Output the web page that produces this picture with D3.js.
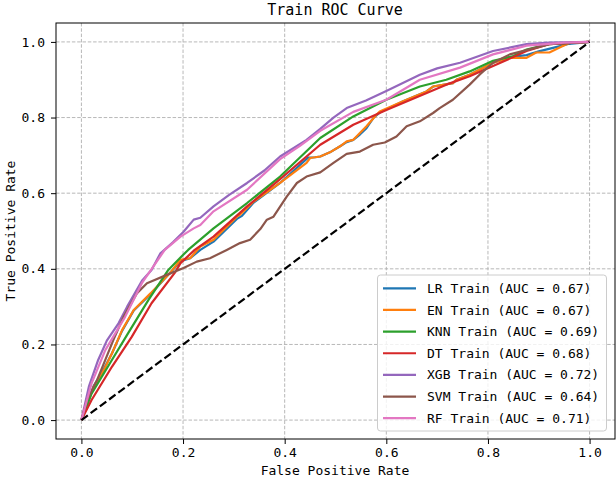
<!DOCTYPE html>
<html>
<head>
<meta charset="utf-8">
<script src="https://cdn.jsdelivr.net/npm/d3@7"></script>
<style>
  body { margin: 0; background: #fff; }
  svg text { font-family: "DejaVu Sans Mono", "Liberation Mono", monospace; fill: #000; }
</style>
</head>
<body>
<svg id="chart" width="616" height="482"></svg>
<script>
// model names / AUC as printed in the legend
const models = ['LR', 'EN', 'KNN', 'DT', 'XGB', 'SVM', 'RF'];
const aucs = [0.67, 0.67, 0.69, 0.68, 0.72, 0.64, 0.71];
const colors = ['#1f77b4', '#ff7f0e', '#2ca02c', '#d62728', '#9467bd', '#8c564b', '#e377c2'];
const ticks = [0, 0.2, 0.4, 0.6, 0.8, 1.0];

// ROC points
const fprLR = [0, .024, .044, .06, .08, .103, .136, .175, .195, .214, .234, .26, .306, .316, .339, .391, .446, .46, .47, .489, .509, .522, .535, .548, .561, .575, .587, .633, .679, .692, .731, .738, .764, .81, .843, .876, .9, .93, .96, 1];
const tprLR = [0, .09, .135, .176, .236, .29, .333, .39, .42, .428, .45, .472, .532, .54, .575, .627, .694, .695, .697, .708, .724, .735, .741, .755, .772, .8, .813, .843, .869, .882, .891, .9, .913, .945, .96, .965, .975, .985, .995, 1];

const fprEN = [0, .024, .044, .06, .08, .103, .136, .175, .195, .214, .234, .26, .306, .312, .339, .391, .443, .45, .47, .489, .509, .522, .535, .548, .561, .581, .587, .633, .679, .692, .731, .738, .764, .81, .843, .876, .895, .921, .941, .961, 1];
const tprEN = [0, .088, .132, .176, .238, .291, .335, .39, .424, .428, .459, .477, .538, .543, .578, .627, .68, .693, .697, .708, .724, .737, .741, .759, .777, .808, .816, .843, .869, .882, .891, .9, .913, .945, .958, .958, .972, .972, .985, .998, 1];

const fprKNN = [0, .02, .06, .092, .132, .171, .195, .21, .26, .326, .391, .47, .535, .6, .666, .718, .764, .81, .849, .876, .92, 1];
const tprKNN = [0, .07, .159, .23, .318, .397, .43, .45, .507, .574, .644, .746, .803, .847, .882, .9, .922, .95, .962, .98, .994, 1];

const fprDT = [0, .02, .06, .099, .138, .184, .195, .223, .26, .326, .391, .47, .535, .6, .718, .764, .81, .876, .92, 1];
const tprDT = [0, .053, .141, .22, .309, .39, .415, .45, .485, .565, .637, .728, .781, .82, .887, .909, .936, .976, .994, 1];

const fprXGB = [0, .015, .033, .05, .073, .09, .105, .12, .138, .155, .18, .201, .221, .234, .26, .29, .326, .36, .391, .443, .47, .496, .522, .56, .6, .666, .7, .745, .81, .876, .92, 1];
const tprXGB = [0, .09, .159, .21, .256, .3, .335, .37, .397, .44, .47, .498, .53, .535, .565, .595, .627, .66, .697, .741, .77, .8, .825, .845, .87, .913, .93, .945, .976, .994, .998, 1];

const fprSVM = [0, .011, .031, .047, .063, .083, .109, .129, .136, .168, .201, .227, .253, .286, .312, .332, .352, .365, .378, .404, .424, .443, .47, .496, .522, .548, .574, .597, .62, .64, .666, .692, .705, .731, .764, .784, .81, .843, .895, .921, 1];
const tprSVM = [0, .053, .106, .159, .212, .273, .335, .362, .366, .384, .402, .419, .428, .45, .468, .477, .505, .53, .538, .591, .627, .644, .655, .68, .704, .71, .728, .734, .75, .777, .79, .812, .825, .847, .887, .914, .945, .967, .985, .994, 1];

const fprRF = [0, .02, .047, .086, .119, .164, .195, .221, .234, .26, .326, .391, .43, .47, .535, .6, .666, .745, .81, .876, .95, 1];
const tprRF = [0, .097, .185, .273, .362, .45, .485, .507, .516, .552, .609, .69, .725, .765, .815, .847, .9, .932, .967, .99, .998, 1];

const fprs = [fprLR, fprEN, fprKNN, fprDT, fprXGB, fprSVM, fprRF];
const tprs = [tprLR, tprEN, tprKNN, tprDT, tprXGB, tprSVM, tprRF];

const svg = d3.select('#chart');
const x = d3.scaleLinear().domain([-0.05, 1.05]).range([56, 615]);
const y = d3.scaleLinear().domain([-0.05, 1.05]).range([439, 23]);

// grid
const grid = svg.append('g');
grid.selectAll('.gx').data(ticks).enter().append('line')
  .attr('x1', d => x(d)).attr('x2', d => x(d)).attr('y1', 23).attr('y2', 439)
  .attr('stroke', '#b0b0b0').attr('stroke-width', 0.9).attr('stroke-dasharray', '3.5,1.8');
grid.selectAll('.gy').data(ticks).enter().append('line')
  .attr('y1', d => y(d)).attr('y2', d => y(d)).attr('x1', 56).attr('x2', 615)
  .attr('stroke', '#b0b0b0').attr('stroke-width', 0.9).attr('stroke-dasharray', '3.5,1.8');

// curves
const line = d3.line().x(d => x(d[0])).y(d => y(d[1]));
models.forEach((m, i) => {
  const pts = fprs[i].map((f, j) => [f, tprs[i][j]]);
  svg.append('path').datum(pts).attr('d', line)
    .attr('fill', 'none').attr('stroke', colors[i]).attr('stroke-width', 2.2)
    .attr('stroke-linejoin', 'round');
});

// chance line
svg.append('path').datum([[0, 0], [1, 1]]).attr('d', line)
  .attr('fill', 'none').attr('stroke', '#000').attr('stroke-width', 2.2)
  .attr('stroke-dasharray', '8,3.5');

// frame
svg.append('rect').attr('x', 56).attr('y', 23).attr('width', 559).attr('height', 416)
  .attr('fill', 'none').attr('stroke', '#000').attr('stroke-width', 1);

// axes
const fmt = d3.format('.1f');
const xAxis = svg.append('g').attr('transform', 'translate(0,439)')
  .call(d3.axisBottom(x).tickValues(ticks).tickFormat(fmt).tickSize(5).tickPadding(4));
const yAxis = svg.append('g').attr('transform', 'translate(56,0)')
  .call(d3.axisLeft(y).tickValues(ticks).tickFormat(fmt).tickSize(5).tickPadding(6));
[xAxis, yAxis].forEach(a => {
  a.select('.domain').remove();
  a.selectAll('text').attr('font-size', 13).attr('font-family', '"DejaVu Sans Mono", monospace');
  a.selectAll('line').attr('stroke', '#000');
});

// titles
svg.append('text').attr('x', 335).attr('y', 15).attr('text-anchor', 'middle')
  .attr('font-size', 15).text('Train ROC Curve');
svg.append('text').attr('x', 335).attr('y', 475).attr('text-anchor', 'middle')
  .attr('font-size', 13).text('False Positive Rate');
svg.append('text').attr('transform', 'translate(15,231) rotate(-90)').attr('text-anchor', 'middle')
  .attr('font-size', 13).text('True Positive Rate');

// legend
const lg = svg.append('g');
lg.append('rect').attr('x', 377.5).attr('y', 275).attr('width', 229).attr('height', 156)
  .attr('rx', 3).attr('fill', '#fff').attr('fill-opacity', 0.8).attr('stroke', '#cccccc');
models.forEach((m, i) => {
  const yy = 288.3 + i * 21.65;
  lg.append('line').attr('x1', 383).attr('x2', 416).attr('y1', yy).attr('y2', yy)
    .attr('stroke', colors[i]).attr('stroke-width', 2.2);
  lg.append('text').attr('x', 427).attr('y', yy).attr('dy', '0.35em')
    .attr('font-size', 13).text(`${m} Train (AUC = ${aucs[i].toFixed(2)})`);
});
</script>
</body>
</html>
